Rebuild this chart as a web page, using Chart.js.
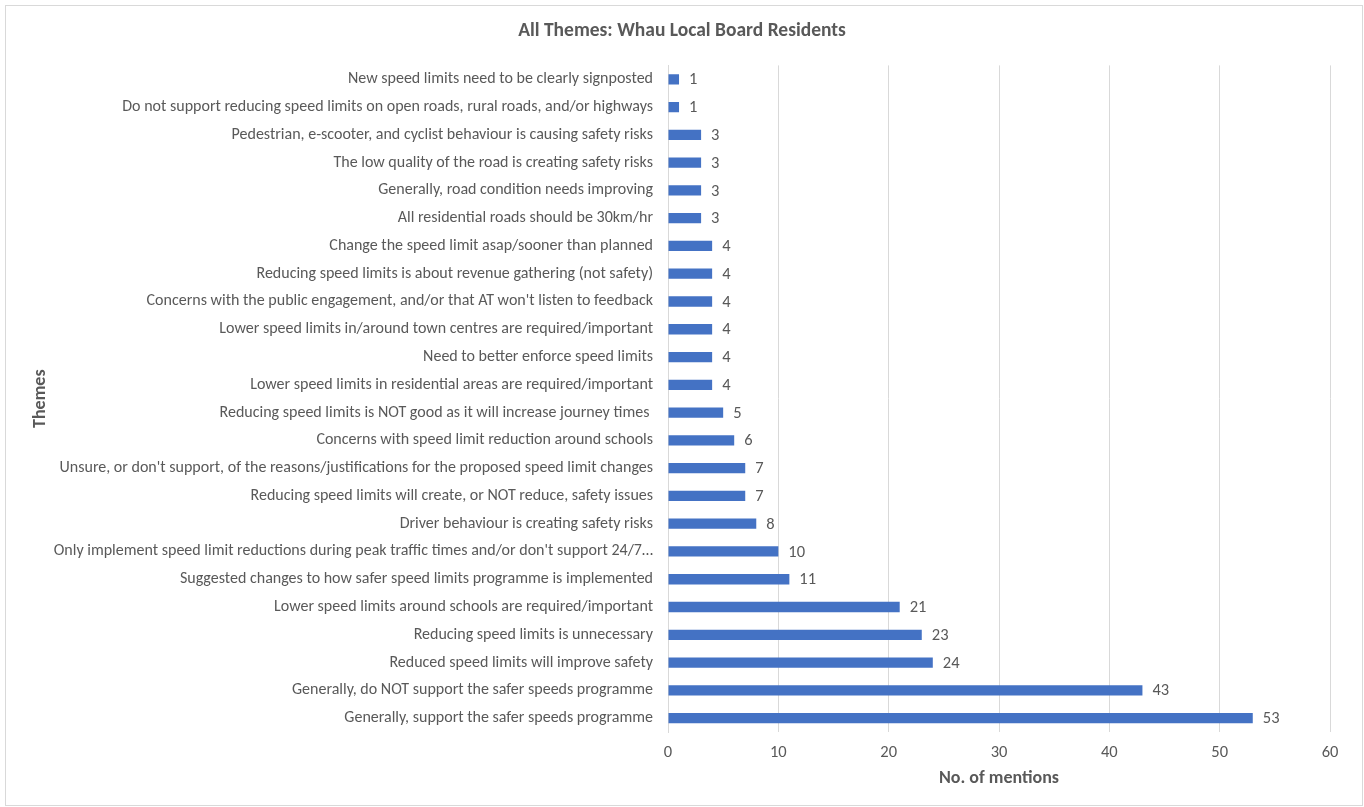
<!DOCTYPE html>
<html><head><meta charset="utf-8">
<script src="https://cdn.jsdelivr.net/npm/chart.js@4"></script>
<style>
html,body{margin:0;padding:0;background:#fff;}
#wrap{position:absolute;left:0;top:0;width:1364px;height:807px;}
#frame{position:absolute;left:5px;top:5px;width:1356px;height:799px;border:1px solid #d9d9d9;pointer-events:none;}
</style></head>
<body>
<div id="wrap"><canvas id="c" width="1364" height="807"></canvas></div>
<div id="frame"></div>
<script>
const categories = [
  "New speed limits need to be clearly signposted",
  "Do not support reducing speed limits on open roads, rural roads, and/or highways",
  "Pedestrian, e-scooter, and cyclist behaviour is causing safety risks",
  "The low quality of the road is creating safety risks",
  "Generally, road condition needs improving",
  "All residential roads should be 30km/hr",
  "Change the speed limit asap/sooner than planned",
  "Reducing speed limits is about revenue gathering (not safety)",
  "Concerns with the public engagement, and/or that AT won't listen to feedback",
  "Lower speed limits in/around town centres are required/important",
  "Need to better enforce speed limits",
  "Lower speed limits in residential areas are required/important",
  "Reducing speed limits is NOT good as it will increase journey times ",
  "Concerns with speed limit reduction around schools",
  "Unsure, or don't support, of the reasons/justifications for the proposed speed limit changes",
  "Reducing speed limits will create, or NOT reduce, safety issues",
  "Driver behaviour is creating safety risks",
  "Only implement speed limit reductions during peak traffic times and/or don't support 24/7…",
  "Suggested changes to how safer speed limits programme is implemented",
  "Lower speed limits around schools are required/important",
  "Reducing speed limits is unnecessary",
  "Reduced speed limits will improve safety",
  "Generally, do NOT support the safer speeds programme",
  "Generally, support the safer speeds programme"
];
const mentions = [1,1,3,3,3,3,4,4,4,4,4,4,5,6,7,7,8,10,11,21,23,24,43,53];
const xTicks = [0,10,20,30,40,50,60];

const FONT = "Carlito, Lato, 'Open Sans', sans-serif";
const TXT = "#595959";

const valueLabels = {
  id: 'valueLabels',
  afterLayout(chart) {
    const t = chart.titleBlock;
    if (t) { t.left = 0; t.right = chart.width; t.width = chart.width; }
  },
  afterDatasetsDraw(chart) {
    const ctx = chart.ctx;
    const meta = chart.getDatasetMeta(0);
    ctx.save();
    ctx.font = "16.5px " + FONT;
    ctx.fillStyle = TXT;
    ctx.textAlign = 'left';
    ctx.textBaseline = 'middle';
    meta.data.forEach((bar, i) => {
      ctx.fillText(String(mentions[i]), bar.x + 10, bar.y + 1);
    });
    ctx.restore();
  }
};

new Chart(document.getElementById('c'), {
  type: 'bar',
  data: {
    labels: categories,
    datasets: [{
      data: mentions,
      backgroundColor: '#4472C4',
      borderWidth: 0,
      categoryPercentage: 1,
      barPercentage: 0.37
    }]
  },
  options: {
    indexAxis: 'y',
    responsive: false,
    animation: false,
    layout: { padding: { left: 0, right: 34, top: 0, bottom: 0 } },
    plugins: {
      legend: { display: false },
      tooltip: { enabled: false },
      title: {
        display: true,
        text: 'All Themes: Whau Local Board Residents',
        color: TXT,
        font: { family: FONT, size: 19.5, weight: 'bold' },
        padding: { top: 19, bottom: 23 }
      }
    },
    scales: {
      x: {
        min: 0, max: 60,
        afterBuildTicks(scale) { scale.ticks = xTicks.map(v => ({ value: v })); },
        afterFit(scale) { scale.height = 75; },
        grid: { color: '#d9d9d9', drawTicks: false },
        border: { display: false },
        ticks: { color: TXT, font: { family: FONT, size: 16.5 }, padding: 11 },
        title: {
          display: true, text: 'No. of mentions', color: TXT,
          font: { family: FONT, size: 18, weight: 'bold' },
          padding: { top: 0, bottom: 18 }
        }
      },
      y: {
        afterFit(scale) { scale.width = 668; },
        grid: { display: false, drawTicks: false },
        border: { display: true, color: '#d9d9d9' },
        ticks: { color: TXT, font: { family: FONT, size: 16 }, padding: 15, autoSkip: false },
        title: {
          display: true, text: 'Themes', color: TXT,
          font: { family: FONT, size: 18, weight: 'bold' },
          padding: { top: 30, bottom: 0 }
        }
      }
    }
  },
  plugins: [valueLabels]
});
</script>
</body></html>
